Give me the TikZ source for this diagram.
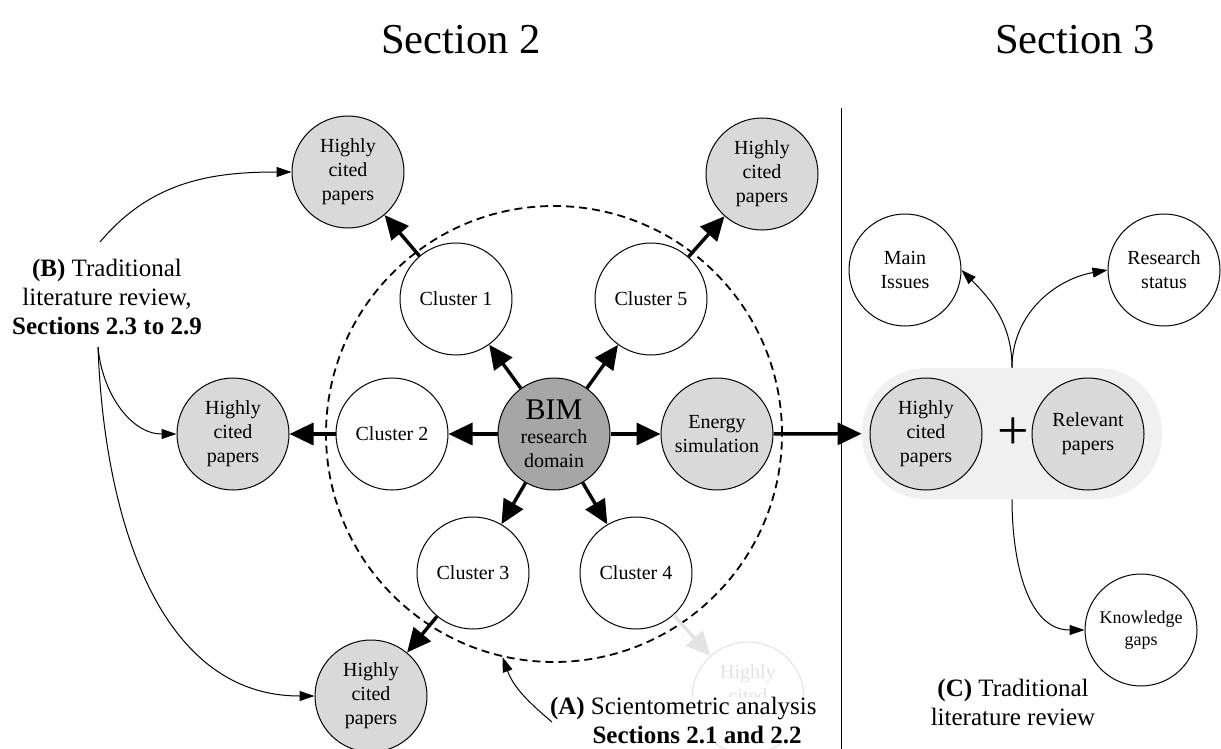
\documentclass[tikz,border=0pt]{standalone}
\usepackage{fontspec}
\setmainfont{Liberation Serif}
\usetikzlibrary{arrows.meta}
\definecolor{papergray}{HTML}{D9D9D9}
\definecolor{domaingray}{HTML}{A6A6A6}
\definecolor{panelgray}{HTML}{F0F0F0}
\definecolor{ghostgray}{HTML}{E3E3E3}

\begin{document}
\begin{tikzpicture}[x=.5pt,y=.5pt,
  bubble/.style={circle,draw,line width=.5pt,fill=white,minimum size=56pt,inner sep=0pt,align=center,font=\fontsize{10}{12}\selectfont},
  paper/.style={bubble,fill=papergray},
  ghost/.style={bubble,draw=ghostgray,text=ghostgray},
  thickarrow/.style={line width=1.7pt,-{Triangle[length=12pt,width=11pt]}},
  thinarrow/.style={line width=.5pt,-{Triangle[length=7.5pt,width=5pt]}},
  note/.style={align=center,font=\fontsize{12.5}{14.5}\selectfont},
  heading/.style={font=\fontsize{21.3}{25}\selectfont}]
\useasboundingbox (0,0) rectangle (1221,-749);

\node[heading] (sec2) at (461,-40) {Section 2};
\node[heading] (sec3) at (1075,-40) {Section 3};
\coordinate (divtop) at (841,-108);
\coordinate (divbot) at (841,-749);
\draw[line width=.5pt] (divtop) -- (divbot);

% scientometric part
\node[circle,draw,dashed,line width=.9pt,dash pattern=on 4pt off 2.5pt,minimum size=228pt] (ring) at (554,-434) {};
\node[bubble,fill=domaingray] (bim) at (554,-434) {{\fontsize{15}{15}\selectfont BIM}\\research\\domain};
\node[bubble] (c1) at (456,-299) {Cluster 1};
\node[bubble] (c2) at (392,-434) {Cluster 2};
\node[bubble] (c3) at (473,-573) {Cluster 3};
\node[bubble] (c4) at (636,-573) {Cluster 4};
\node[bubble] (c5) at (651,-299) {Cluster 5};
\node[paper] (energy) at (717,-434) {Energy\\simulation};
\node[paper] (hc1) at (348,-172) {Highly\\cited\\papers};
\node[paper] (hc2) at (233,-434) {Highly\\cited\\papers};
\node[paper] (hc3) at (371,-696) {Highly\\cited\\papers};
\node[paper] (hc5) at (762,-174) {Highly\\cited\\papers};
\node[ghost] (hc4) at (748,-698) {Highly\\cited\\papers};

\foreach \c in {c1,c2,c3,c4,c5,energy}
  \draw[thickarrow] (bim) -- (\c);
\draw[thickarrow] (c1) -- (hc1);
\draw[thickarrow] (c2) -- (hc2);
\draw[thickarrow] (c3) -- (hc3);
\draw[thickarrow] (c5) -- (hc5);
\draw[thickarrow,draw=ghostgray,fill=ghostgray] (c4) -- (hc4);

% labels A and B
\node[note] (labB) at (107,-297) {\textbf{(B)} Traditional\\literature review,\\\textbf{Sections 2.3 to 2.9}};
\coordinate (bUp) at (100,-242);
\coordinate (bDown) at (98,-347);
\draw[thinarrow] (bUp) to[out=50,in=180] (hc1.west);
\draw[thinarrow] (bDown) to[out=-85,in=180] (hc2.west);
\draw[thinarrow] (bDown) to[out=-88,in=180] (hc3.west);

\node[note,align=right,fill=white,inner sep=0pt,anchor=east] (labA) at (817,-720) {\textbf{(A)} Scientometric analysis\\\textbf{Sections 2.1 and 2.2}\hspace*{7.5pt}};
\coordinate (aTail) at (552,-722);
\draw[thinarrow] (aTail) to[out=140,in=-70] (ring.257);

% traditional review part
\node[rectangle,fill=panelgray,rounded corners=32pt,minimum width=150pt,minimum height=65.5pt] (combo) at (1012,-433.5) {};
\node[paper] (hcr) at (926,-434) {Highly\\cited\\papers};
\node[paper] (rel) at (1088,-434) {Relevant\\papers};
\node[font=\fontsize{28}{30}\selectfont] (plus) at (1013,-434) {+};
\draw[thickarrow] (energy) -- (combo);

\node[bubble] (mi) at (905,-270) {Main\\Issues};
\node[bubble] (rs) at (1164,-270) {Research\\status};
\node[bubble,font=\fontsize{9}{11}\selectfont] (kg) at (1141,-630) {Knowledge\\gaps};
\draw[thinarrow] (combo.north) to[out=90,in=-45] (mi.east);
\draw[thinarrow] (combo.north) to[out=90,in=190] (rs.west);
\draw[thinarrow] (combo.south) to[out=-90,in=180] (kg.west);

\node[note] (labC) at (1013,-702) {\textbf{(C)} Traditional\\literature review};
\end{tikzpicture}
\end{document}
